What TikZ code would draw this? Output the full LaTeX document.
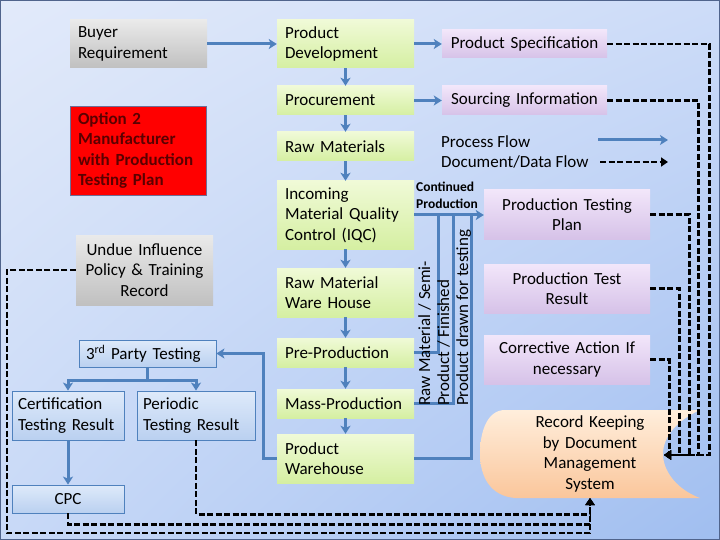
\documentclass[tikz,border=0pt]{standalone}
\usepackage{fontspec}
\setmainfont{Carlito}
\usetikzlibrary{arrows.meta,shadings}
\definecolor{flowblue}{RGB}{79,129,189}
\definecolor{bgUL}{RGB}{226,234,250}
\definecolor{bgUR}{RGB}{205,220,248}
\definecolor{bgLL}{RGB}{200,217,247}
\definecolor{bgLR}{RGB}{160,190,240}
\definecolor{gTop}{RGB}{240,250,215}
\definecolor{gBot}{RGB}{213,239,162}
\definecolor{pTop}{RGB}{242,230,250}
\definecolor{pBot}{RGB}{214,194,232}
\definecolor{grTop}{RGB}{234,234,234}
\definecolor{grBot}{RGB}{192,192,192}
\definecolor{bTop}{RGB}{222,234,250}
\definecolor{bBot}{RGB}{186,208,240}
\definecolor{oTop}{RGB}{255,238,220}
\definecolor{oBot}{RGB}{250,198,155}
\definecolor{darkred}{RGB}{90,0,0}
\definecolor{frame}{RGB}{80,100,140}
\begin{document}
\begin{tikzpicture}[x=1pt,y=-1pt,
  base/.style={font=\fontsize{17}{20.5}\selectfont, inner ysep=0pt, inner xsep=8pt},
  gbox/.style={base, top color=gTop, bottom color=gBot, minimum width=137pt, text width=121pt, align=left},
  pbox/.style={base, top color=pTop, bottom color=pBot, minimum width=166pt, text width=150pt, align=center},
  graybox/.style={base, top color=grTop, bottom color=grBot, minimum width=137pt, text width=121pt},
  bluebox/.style={base, top color=bTop, bottom color=bBot, draw=flowblue, line width=0.8pt},
  flow/.style={draw=flowblue, line width=3pt, -{Stealth[length=8pt,width=10pt,inset=2pt]}},
  flowline/.style={draw=flowblue, line width=3pt},
  doc/.style={draw=black, line width=2.6pt, dash pattern=on 6pt off 2.5pt, -{Triangle[length=7pt,width=9pt]}}
]
\useasboundingbox (0,0) rectangle (720,540);
\shade[upper left=bgUL, upper right=bgUR, lower left=bgLL, lower right=bgLR] (0,0) rectangle (720,540);
\draw[frame, line width=1.2pt] (0.6,0.6) rectangle (719.4,539.4);

% left column
\node[graybox, align=left, minimum height=48pt] (br) at (138.5,44) {Buyer\\Requirement};
\node[base, fill=red, draw={rgb,255:red,110;green,110;blue,150}, line width=0.8pt, minimum width=136pt, minimum height=89pt, text width=120pt, align=left, text=darkred, font=\fontsize{17}{20.5}\selectfont\bfseries] (opt) at (138,150.5) {Option 2\\Manufacturer\\with Production\\Testing Plan};
\node[graybox, align=center, minimum height=70pt] (ui) at (144.5,270) {Undue Influence\\Policy \& Training\\Record};
\node[bluebox, minimum width=137pt, minimum height=27pt, text width=123pt, inner xsep=7pt, align=left] (tp) at (147.5,353.5) {3\textsuperscript{rd} Party Testing};
\node[bluebox, minimum width=112pt, minimum height=49pt, text width=100pt, inner xsep=6pt, align=left] (cert) at (68,415.5) {Certification\\Testing Result};
\node[bluebox, minimum width=118pt, minimum height=49pt, text width=106pt, inner xsep=6pt, align=left] (per) at (196,415.5) {Periodic\\Testing Result};
\node[bluebox, minimum width=112pt, minimum height=28pt, text width=100pt, inner xsep=6pt, align=center] (cpc) at (68,499) {CPC};

% centre column
\node[gbox, minimum height=48pt] (pd) at (345.5,44) {Product\\Development};
\node[gbox, minimum height=29pt] (proc) at (345.5,100.5) {Procurement};
\node[gbox, minimum height=29pt] (rm) at (345.5,146.5) {Raw Materials};
\node[gbox, minimum height=68pt] (iqc) at (345.5,215) {Incoming\\Material Quality\\Control (IQC)};
\node[gbox, minimum height=49pt] (rmw) at (345.5,292.5) {Raw Material\\Ware House};
\node[gbox, minimum height=29pt] (pp) at (345.5,352.5) {Pre-Production};
\node[gbox, minimum height=29pt] (mp) at (345.5,403.5) {Mass-Production};
\node[gbox, minimum height=49pt] (pw) at (345.5,458.5) {Product\\Warehouse};

% right column
\node[pbox, minimum width=165pt, text width=149pt, minimum height=28pt] (ps) at (524.5,44) {Product Specification};
\node[pbox, minimum width=165pt, text width=149pt, minimum height=29pt] (si) at (524.5,100.5) {Sourcing Information};
\node[pbox, minimum height=49pt] (ptp) at (567,214.5) {Production Testing\\Plan};
\node[pbox, minimum height=49pt] (ptr) at (567,288.5) {Production Test\\Result};
\node[pbox, minimum height=49pt] (ca) at (567,359.5) {Corrective Action If\\necessary};

% record keeping shape
\shade[top color=oTop, bottom color=oBot] (505,410) -- (700,410) .. controls (678,420) and (663,436) .. (663,454) .. controls (663,472) and (678,490) .. (700,498) -- (515,498) .. controls (490,496) and (480,476) .. (480,454) .. controls (480,430) and (488,410) .. (505,410) -- cycle;
\node[base, align=center, text width=150pt] (rk) at (590,454) {Record Keeping\\by Document\\Management\\System};
\coordinate (rkin) at (664,455);
\coordinate (rkb) at (590,498);

% legend
\node[base, inner xsep=0pt, align=left, anchor=west] (leg) at (441,152) {Process Flow\\Document/Data Flow};
\coordinate (la1) at (598,140);
\coordinate (la2) at (668,140);
\coordinate (lb1) at (600,162);
\coordinate (lb2) at (668,162);
\draw[flow] (la1) -- (la2);
\draw[doc] (lb1) -- (lb2);

% blue process flow
\draw[flow] (br.east) -- (pd.west);
\draw[flow] (pd.east) -- (ps.west);
\draw[flow] (proc.east) -- (si.west);
\draw[flow] (pd.south) -- (proc.north);
\draw[flow] (proc.south) -- (rm.north);
\draw[flow] (rm.south) -- (iqc.north);
\draw[flow] (iqc.south) -- (rmw.north);
\draw[flow] (rmw.south) -- (pp.north);
\draw[flow] (pp.south) -- (mp.north);
\draw[flow] (mp.south) -- (pw.north);
\draw[flow] (iqc.east) -- (iqc.east -| ptp.west);
\coordinate (j1) at (438,215);
\coordinate (j2) at (453,215);
\coordinate (j3) at (471,215);
\draw[flowline] (pp.east) -| (j1);
\draw[flowline] (mp.east) -| (j2);
\draw[flowline] (pw.east) -| (j3);
\draw[flow] (pw.west) -- ++(-13,0) |- (tp.east);
\draw[flow] (tp.south) -- ++(0,13.5) -| (cert.north);
\draw[flow] (tp.south) -- ++(0,13.5) -| (per.north);
\draw[flow] (cert.south) -- (cpc.north);

% labels on the flow
\node[inner sep=0pt, anchor=west, align=left, font=\fontsize{13.5}{17}\selectfont\bfseries] (cont) at (416,195.5) {Continued\\Production};
\node[inner sep=0pt, rotate=90, anchor=north west, align=left, font=\fontsize{17}{19}\selectfont] (rot) at (418,406) {Raw Material / Semi-\\Product / Finished\\Product drawn for testing};

% document / data flow
\draw[doc] (ps.east) -- ++(102,0) |- (rkin);
\draw[doc] (si.east) -- ++(91,0) |- (rkin);
\draw[doc] (ptp.east) -- ++(39,0) |- (rkin);
\draw[doc] (ptr.east) -- ++(29,0) |- (rkin);
\draw[doc] (ca.east) -- ++(19,0) |- (rkin);
\draw[doc] (per.south) -- ++(0,74) -| (rkb);
\draw[doc] (cpc.south) -- ++(0,11) -| (rkb);
\draw[doc] (ui.west) -- ++(-69,0) -- ++(0,263) -| (rkb);
\end{tikzpicture}
\end{document}
